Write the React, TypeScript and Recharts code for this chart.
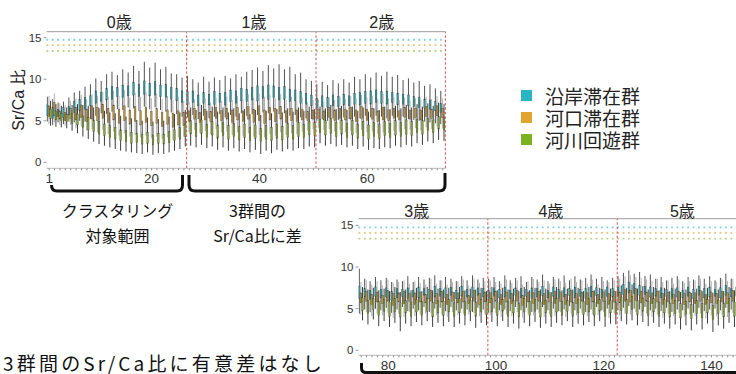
import React from "react";
import { ComposedChart, Bar, XAxis, YAxis, ReferenceLine } from "recharts";

// each entry: [whisker low, q1, q3, whisker high], index 1..146
const coastal = [
  // 0歳 (1-26)
  [4.9,5.6,6.9,7.9],[4.5,5.3,6.6,7.6],[4.8,5.5,6.4,7.2],[4.6,5.4,6.6,7.3],[4.9,5.7,6.7,7.8],[4.8,6.0,7.3,8.4],
  [5.0,6.2,7.6,8.6],[4.9,6.4,7.8,9.1],[5.2,6.8,8.0,9.4],[5.6,7.1,8.6,10.1],[5.9,7.3,8.4,9.8],[5.8,7.5,8.9,10.6],
  [6.1,7.6,9.1,10.9],[6.4,7.9,9.0,10.5],[6.3,7.8,9.3,11.2],[6.6,8.0,9.2,10.8],[6.5,8.1,9.6,11.6],[6.2,7.9,9.4,11.0],
  [6.7,8.2,9.8,12.1],[6.4,8.0,9.5,11.4],[6.6,8.1,9.7,12.0],[6.3,7.9,9.3,11.2],[6.1,7.8,9.4,11.5],[6.0,7.6,9.0,10.7],
  [5.8,7.4,8.9,10.6],[5.5,7.2,8.6,10.2],
  // 1歳 (27-50)
  [5.4,7.0,8.5,10.4],[5.7,7.2,8.6,10.0],[5.2,6.8,8.1,9.6],[5.6,7.1,8.4,10.3],[5.3,6.9,8.2,9.7],[5.5,7.0,8.5,10.2],
  [5.8,7.2,8.3,9.9],[5.4,6.9,8.4,10.4],[5.7,7.3,8.7,10.1],[5.5,7.1,8.6,10.6],[5.9,7.4,8.9,10.3],[5.6,7.3,8.8,10.9],
  [5.8,7.5,9.0,11.1],[5.7,7.4,9.2,11.4],[6.0,7.7,9.1,11.0],[5.9,7.6,9.3,11.7],[6.1,7.8,9.2,11.3],[5.8,7.5,9.0,11.8],
  [5.9,7.6,9.1,11.2],[5.6,7.3,8.8,11.5],[5.7,7.4,8.7,10.6],[5.4,7.1,8.5,10.8],[5.3,7.0,8.3,10.0],[5.2,6.8,8.1,9.8],
  // 2歳 (51-74)
  [5.0,6.5,7.7,9.4],[5.2,6.7,8.0,9.7],[5.0,6.6,7.8,9.3],[5.3,6.8,8.1,9.9],[5.1,6.7,7.9,9.5],[5.4,6.9,8.2,10.0],
  [5.2,6.8,8.0,9.6],[5.5,7.0,8.3,10.3],[5.3,6.9,8.4,10.0],[5.6,7.1,8.5,10.6],[5.4,7.0,8.6,10.2],[5.6,7.2,8.7,10.8],
  [5.5,7.1,8.5,10.4],[5.3,7.0,8.6,10.9],[5.6,7.2,8.4,10.3],[5.4,6.9,8.3,10.5],[5.5,7.0,8.2,9.9],[5.2,6.8,8.1,10.1],
  [5.1,6.7,7.9,9.6],[5.0,6.6,7.8,9.8],[4.9,6.5,7.6,9.2],[4.8,6.4,7.5,9.4],[4.7,6.2,7.3,8.9],[4.6,6.0,7.1,8.6],
  // 3歳 (75-98)
  [4.4,6.2,7.7,9.8],[4.9,6.4,7.4,8.6],[4.6,6.1,7.2,8.3],[5.0,6.5,7.6,8.8],[4.8,6.3,7.3,8.4],[5.1,6.4,7.5,8.7],
  [4.5,6.0,7.1,8.2],[4.9,6.3,7.4,8.5],[5.2,6.5,7.3,8.3],[4.7,6.2,7.5,8.9],[5.0,6.4,7.2,8.2],[4.8,6.3,7.6,8.8],
  [5.2,6.6,7.4,8.5],[4.6,6.2,7.3,8.7],[5.0,6.4,7.7,9.0],[5.1,6.5,7.4,8.4],[4.7,6.3,7.5,8.8],[5.2,6.6,7.6,8.6],
  [4.8,6.2,7.2,8.3],[5.0,6.5,7.7,8.9],[4.9,6.4,7.3,8.4],[4.6,6.3,7.6,9.0],[5.1,6.6,7.5,8.5],[4.9,6.4,7.4,8.7],
  // 4歳 (99-122)
  [4.5,6.1,7.2,8.6],[5.0,6.5,7.5,8.8],[4.8,6.3,7.3,8.3],[4.9,6.4,7.6,9.0],[4.7,6.2,7.2,8.4],[5.2,6.6,7.5,8.7],
  [4.8,6.3,7.4,8.9],[5.1,6.5,7.3,8.2],[4.6,6.2,7.5,8.8],[4.9,6.4,7.4,8.5],[5.2,6.6,7.7,9.1],[4.8,6.3,7.2,8.3],
  [5.0,6.5,7.6,8.8],[4.7,6.2,7.3,8.6],[4.9,6.4,7.5,9.0],[5.3,6.6,7.4,8.4],[4.8,6.3,7.6,8.9],[5.0,6.5,7.3,8.5],
  [4.6,6.2,7.4,8.7],[4.9,6.4,7.7,9.1],[5.2,6.6,7.5,8.6],[4.8,6.3,7.3,8.8],[5.0,6.5,7.6,8.4],[4.9,6.4,7.4,8.7],
  // 5歳 (123-146)
  [4.8,6.5,7.6,8.9],[5.1,6.7,7.9,9.3],[5.3,6.9,8.2,9.6],[5.0,6.8,8.0,9.2],[4.9,6.6,7.8,9.4],[5.2,6.7,7.7,8.9],
  [4.8,6.4,7.6,9.1],[5.0,6.5,7.4,8.6],[4.7,6.3,7.5,8.8],[5.1,6.5,7.3,8.4],[4.6,6.2,7.4,8.7],[4.9,6.4,7.5,8.9],
  [4.8,6.3,7.2,8.3],[5.0,6.5,7.6,8.8],[4.5,6.2,7.3,8.5],[5.1,6.6,7.7,9.0],[4.7,6.3,7.4,8.6],[4.9,6.4,7.6,8.9],
  [5.0,6.5,7.3,8.4],[4.8,6.3,7.5,8.7],[5.1,6.6,7.8,9.2],[4.9,6.4,7.4,8.6],[5.0,6.5,7.6,8.8],[4.7,6.3,7.3,8.5],
];

const estuary = [
  // 0歳
  [4.6,5.5,6.8,8.0],[4.8,5.6,7.2,8.3],[4.5,5.2,6.2,7.1],[4.4,5.0,6.0,6.9],[4.5,5.3,6.5,7.4],[4.1,5.1,6.6,7.7],
  [4.3,5.4,6.9,8.1],[3.8,4.9,6.4,7.6],[4.0,5.2,6.8,8.2],[3.6,5.0,6.6,8.0],[3.9,5.3,7.0,8.5],[3.4,4.8,6.5,7.9],
  [3.7,5.1,6.9,8.6],[3.2,4.7,6.4,8.0],[3.5,5.0,6.8,8.7],[3.1,4.6,6.3,7.8],[3.3,4.9,6.7,8.4],[3.0,4.5,6.2,7.9],
  [3.2,4.8,6.6,8.5],[2.9,4.4,6.1,7.7],[3.1,4.7,6.5,8.3],[2.8,4.3,6.0,7.6],[3.0,4.6,6.3,8.0],[2.7,4.2,5.9,7.5],
  [3.0,4.5,6.2,7.9],[3.1,4.4,6.0,7.4],
  // 1歳
  [3.6,4.9,6.2,7.3],[3.9,5.2,6.5,7.6],[3.5,4.8,6.0,7.1],[3.8,5.1,6.4,7.7],[3.4,4.9,6.1,7.2],[4.0,5.3,6.6,7.8],
  [3.6,5.0,6.2,7.4],[3.7,5.2,6.5,7.9],[3.3,4.8,6.3,7.5],[3.6,5.1,6.6,8.0],[3.2,4.9,6.2,7.6],[3.5,5.2,6.7,8.2],
  [3.1,4.8,6.4,7.8],[3.3,5.0,6.8,8.3],[3.0,4.7,6.3,7.9],[3.4,5.1,6.6,8.1],[3.2,4.9,6.5,7.7],[3.6,5.2,6.7,8.2],
  [3.3,4.8,6.2,7.5],[3.5,5.0,6.5,7.9],[3.4,4.9,6.3,7.4],[3.7,5.1,6.4,7.8],[3.8,5.0,6.1,7.2],[4.0,5.2,6.3,7.5],
  // 2歳
  [4.1,5.3,6.4,7.6],[3.9,5.1,6.2,7.3],[4.0,5.4,6.6,7.8],[3.7,5.0,6.3,7.5],[3.9,5.3,6.5,7.9],[3.6,5.1,6.4,7.6],
  [3.8,5.2,6.6,8.0],[3.5,4.9,6.3,7.7],[3.9,5.3,6.7,8.1],[3.6,5.0,6.4,7.8],[3.7,5.2,6.5,8.0],[3.4,4.9,6.2,7.6],
  [3.6,5.1,6.6,8.2],[3.5,5.0,6.3,7.7],[3.8,5.3,6.5,7.9],[3.7,5.1,6.2,7.5],[4.0,5.4,6.6,7.8],[3.9,5.2,6.3,7.4],
  [4.1,5.4,6.5,7.7],[3.8,5.1,6.3,7.5],[4.2,5.5,6.7,7.9],[4.0,5.3,6.4,7.6],[4.3,5.6,6.8,8.0],[4.1,5.4,6.5,7.7],
  // 3歳
  [4.3,5.7,6.9,8.2],[4.6,5.9,7.1,8.4],[4.1,5.5,6.7,7.9],[4.4,5.8,7.0,8.3],[4.2,5.6,6.6,7.8],[4.5,5.9,7.2,8.5],
  [3.9,5.4,6.8,8.1],[4.4,5.8,6.9,8.2],[4.0,5.6,7.1,8.4],[4.6,5.9,6.8,8.0],[4.1,5.5,6.9,8.3],[4.3,5.8,7.0,8.1],
  [4.4,5.7,6.7,7.9],[4.5,5.9,7.2,8.6],[4.2,5.6,6.8,8.0],[4.3,5.8,7.1,8.4],[4.0,5.5,6.7,7.9],[4.6,5.9,7.0,8.2],
  [4.2,5.7,6.9,8.3],[4.4,5.8,7.1,8.5],[4.3,5.6,6.6,7.8],[4.5,5.9,7.2,8.6],[4.1,5.5,6.8,8.1],[4.4,5.8,7.0,8.3],
  // 4歳
  [4.2,5.7,6.9,8.4],[4.5,5.9,7.1,8.2],[4.0,5.5,6.7,8.0],[4.3,5.8,7.0,8.5],[4.1,5.6,6.8,8.1],[4.6,5.9,7.2,8.4],
  [3.9,5.4,6.6,7.9],[4.4,5.8,7.0,8.3],[4.2,5.6,6.9,8.6],[4.5,5.9,7.1,8.2],[4.0,5.5,6.8,8.4],[4.3,5.8,6.9,8.0],
  [4.1,5.6,7.1,8.5],[4.6,5.9,7.0,8.3],[4.0,5.5,6.7,8.1],[4.4,5.8,7.2,8.6],[4.2,5.6,6.8,8.2],[4.5,5.9,7.0,8.4],
  [4.1,5.5,6.9,8.0],[4.3,5.8,7.1,8.5],[4.2,5.6,6.7,7.9],[4.6,5.9,7.0,8.3],[3.9,5.5,6.8,8.2],[4.4,5.8,7.1,8.4],
  // 5歳
  [4.2,5.7,7.0,8.6],[4.4,5.9,7.3,8.9],[4.3,5.8,7.2,9.0],[4.6,6.0,7.4,8.8],[4.1,5.7,7.1,8.7],[4.4,5.9,7.0,8.5],
  [4.0,5.6,6.9,8.3],[4.3,5.8,7.1,8.6],[3.9,5.5,6.8,8.2],[4.4,5.8,7.0,8.4],[4.1,5.6,6.7,8.0],[4.5,5.9,7.1,8.5],
  [4.0,5.5,6.8,8.1],[4.3,5.8,7.0,8.3],[4.1,5.6,6.9,8.4],[4.4,5.9,7.2,8.6],[3.8,5.5,6.7,8.0],[4.2,5.7,7.0,8.3],
  [4.1,5.6,6.8,8.2],[4.3,5.8,7.1,8.5],[4.0,5.6,6.9,8.3],[4.5,5.9,7.2,8.6],[4.2,5.7,6.9,8.2],[4.3,5.8,7.0,8.4],
];

const river = [
  // 0歳
  [4.4,5.3,6.4,7.4],[4.3,5.1,6.2,7.0],[4.2,5.0,5.9,6.8],[4.1,4.9,5.8,6.6],[3.8,4.7,5.9,6.9],[3.5,4.5,5.8,7.0],
  [3.1,4.2,5.6,6.9],[2.8,3.9,5.4,6.8],[2.5,3.7,5.1,6.6],[2.2,3.4,4.9,6.5],[2.0,3.2,4.6,6.2],[1.8,3.0,4.4,6.0],
  [1.6,2.8,4.2,5.9],[1.4,2.6,3.9,5.6],[1.3,2.5,3.8,5.5],[1.2,2.3,3.6,5.3],[1.1,2.4,3.5,5.1],[1.0,2.2,3.4,5.0],
  [1.2,2.3,3.6,5.4],[0.9,2.1,3.3,4.9],[1.1,2.3,3.5,5.2],[1.0,2.2,3.4,5.0],[1.2,2.4,3.7,5.5],[1.4,2.6,3.9,5.8],
  [1.6,2.8,4.2,6.0],[1.9,3.1,4.6,6.3],
  // 1歳
  [2.0,3.4,5.0,6.6],[1.8,3.1,4.7,6.3],[2.1,3.5,5.1,6.9],[1.7,3.0,4.6,6.2],[1.9,3.3,4.9,6.7],[1.5,2.9,4.5,6.1],
  [1.8,3.2,4.8,6.6],[1.4,2.8,4.4,6.0],[1.7,3.1,4.7,6.5],[1.3,2.7,4.3,5.9],[1.6,3.0,4.6,6.4],[1.2,2.6,4.2,5.8],
  [1.5,2.9,4.5,6.3],[1.0,2.5,4.1,5.7],[1.4,2.8,4.4,6.2],[1.1,2.6,4.2,5.9],[1.5,2.9,4.6,6.4],[1.3,2.7,4.3,6.0],
  [1.6,3.0,4.7,6.5],[1.4,2.8,4.4,6.1],[1.7,3.1,4.8,6.6],[1.6,3.0,4.6,6.2],[1.9,3.3,4.9,6.7],[1.8,3.2,4.8,6.4],
  // 2歳
  [2.3,3.6,5.2,6.7],[2.0,3.3,5.0,6.5],[2.2,3.5,5.3,6.9],[1.9,3.1,4.8,6.4],[2.1,3.4,5.1,6.8],[1.8,3.0,4.7,6.3],
  [2.0,3.3,5.0,6.7],[1.6,2.9,4.6,6.2],[1.9,3.2,4.9,6.6],[1.5,2.8,4.5,6.1],[1.7,3.1,4.8,6.5],[1.6,2.9,4.6,6.3],
  [1.8,3.2,4.9,6.7],[1.7,3.0,4.7,6.4],[2.0,3.3,5.0,6.8],[1.8,3.1,4.8,6.5],[2.1,3.4,5.1,6.9],[1.9,3.2,4.9,6.6],
  [2.3,3.6,5.2,7.0],[2.1,3.4,5.0,6.7],[2.5,3.8,5.3,7.1],[2.3,3.6,5.1,6.8],[2.7,4.0,5.5,7.2],[2.6,3.9,5.4,7.0],
  // 3歳
  [3.6,4.8,6.3,7.6],[3.1,4.4,6.0,7.3],[3.7,4.9,6.2,7.5],[2.9,4.2,5.9,7.2],[3.5,4.7,6.1,7.4],[2.8,4.1,5.8,7.1],
  [3.3,4.6,6.2,7.6],[2.3,4.0,5.7,7.0],[3.2,4.5,6.0,7.3],[2.9,4.1,5.8,7.2],[3.4,4.6,6.1,7.5],[3.0,4.2,5.9,7.1],
  [3.5,4.7,6.2,7.6],[2.8,4.0,5.8,7.2],[3.3,4.5,6.0,7.4],[2.9,4.2,5.9,7.3],[3.4,4.6,6.1,7.5],[2.8,4.1,5.7,7.0],
  [3.2,4.5,6.2,7.6],[3.0,4.2,5.9,7.2],[3.5,4.7,6.0,7.4],[2.7,4.1,5.8,7.3],[3.3,4.6,6.1,7.5],[3.0,4.3,5.9,7.1],
  // 4歳
  [3.4,4.6,6.2,7.6],[2.9,4.2,5.8,7.2],[3.5,4.7,6.1,7.5],[2.8,4.1,5.9,7.3],[3.2,4.5,6.0,7.4],[2.6,4.0,5.7,7.1],
  [3.3,4.6,6.2,7.6],[2.9,4.2,5.9,7.2],[3.4,4.7,6.1,7.5],[2.7,4.0,5.8,7.3],[3.2,4.5,6.0,7.4],[2.8,4.1,5.7,7.0],
  [3.3,4.6,6.2,7.6],[3.0,4.2,5.9,7.2],[3.5,4.7,6.0,7.4],[2.8,4.1,5.8,7.3],[3.2,4.5,6.1,7.5],[3.0,4.3,5.9,7.1],
  [3.4,4.6,6.2,7.6],[2.9,4.2,5.8,7.2],[3.5,4.7,6.1,7.5],[2.8,4.1,5.9,7.3],[3.2,4.5,6.0,7.4],[3.1,4.3,5.8,7.1],
  // 5歳
  [3.5,4.8,6.4,7.8],[3.1,4.4,6.1,7.5],[3.6,4.9,6.5,7.9],[3.0,4.3,6.0,7.4],[3.4,4.7,6.3,7.7],[2.9,4.2,5.9,7.3],
  [3.3,4.6,6.2,7.6],[2.8,4.1,5.8,7.2],[3.2,4.5,6.1,7.5],[2.6,4.0,5.7,7.1],[3.1,4.4,6.0,7.4],[2.5,3.9,5.6,7.0],
  [3.0,4.3,5.9,7.3],[2.4,3.8,5.5,6.9],[3.1,4.4,6.0,7.4],[2.5,3.9,5.6,7.1],[3.2,4.5,6.1,7.5],[2.2,3.7,5.4,6.9],
  [3.0,4.4,6.0,7.3],[2.6,4.0,5.7,7.1],[3.3,4.6,6.2,7.6],[2.8,4.1,5.8,7.2],[3.2,4.5,6.1,7.4],[2.9,4.2,5.9,7.3],
];

const groupNames = ["沿岸滞在群", "河口滞在群", "河川回遊群"];
const groupKeys = ["coastal", "estuary", "river"];
const groupColors = ["#2bb4c2", "#e0a52e", "#7cb21f"];
const boxFills = ["#2f9aa3", "#c29438", "#87a336"];
const whiskerColors = ["#3e3e3e", "#a8a8a8", "#262626"];
const dotColors = ["#7fd1da", "#e6c47e", "#b8d583"];
const sigLevels = [14.75, 14.1, 13.4];

const ageLabels = ["0歳", "1歳", "2歳", "3歳", "4歳", "5歳"];
const ageTickIdx = [14, 39, 62.7, 85.3, 110.2, 134.6];
const ageBreaks = [26.5, 50.5, 74.5, 98.5, 122.5, 146.5];
const xTickLabels = [1, 20, 40, 60, 80, 100, 120, 140];
const yTicks = [0, 5, 10, 15];

const rows = coastal.map((c, i) => ({ idx: i + 1, coastal: c, estuary: estuary[i], river: river[i] }));

const latin = '"Liberation Sans", Arial, "Noto Sans CJK JP", sans-serif';
const cjk = '"Noto Sans CJK JP", sans-serif';

function BoxShape(props: any) {
  const { x, y, width, height, box, fill, whisker } = props;
  const [lo, q1, q3, hi] = box;
  const top = Math.min(y, y + height);
  const h = Math.abs(height);
  const unit = h / (hi - lo);
  const cx = x + width / 2;
  const y3 = top + (hi - q3) * unit;
  const y1 = top + (hi - q1) * unit;
  return (
    <g>
      <line x1={cx} x2={cx} y1={top} y2={top + h} stroke={whisker} strokeWidth={0.9} />
      <rect x={x} y={y3} width={width} height={y1 - y3} fill={fill} stroke="rgba(25,25,25,0.6)" strokeWidth={0.45} />
    </g>
  );
}

function Panel({ first, last, yDomain, ageMargin }: { first: number; last: number; yDomain: number[]; ageMargin: number }) {
  const data = rows.filter((r) => r.idx >= first && r.idx <= last);
  const xDomain = [first - 0.5, last + 0.5];
  const ages = ageTickIdx.filter((v) => v > first && v < last);
  const breaks = ageBreaks.filter((v) => v > first && v <= last + 0.5);
  const width = 46.5 + (last - first + 1) * 5.39 + 6;

  return (
    <ComposedChart
      width={width}
      height={191}
      data={data}
      margin={{ top: 7.7, right: 6, bottom: 0.7, left: 10.5 }}
      barGap={0}
    >
      <XAxis
        xAxisId="age"
        orientation="top"
        type="number"
        dataKey="idx"
        domain={xDomain}
        allowDataOverflow
        ticks={ages}
        interval={0}
        tickFormatter={(v) => ageLabels[ageTickIdx.indexOf(v)]}
        tickLine={false}
        tickSize={0}
        tickMargin={ageMargin}
        axisLine={{ stroke: "#9c9c9c" }}
        height={24}
        tick={{ fontSize: 16, fill: "#222", fontFamily: latin }}
      />
      <XAxis
        type="number"
        dataKey="idx"
        domain={xDomain}
        allowDataOverflow
        ticks={data.map((d) => d.idx)}
        interval={0}
        tickFormatter={(v) => (xTickLabels.includes(v) ? String(v) : "")}
        tickSize={2}
        tickMargin={3}
        tickLine={{ stroke: "#8a8a8a" }}
        axisLine={{ stroke: "#bcbcbc" }}
        height={22}
        tick={{ fontSize: 13.5, fill: "#333", fontFamily: latin }}
      />
      <YAxis
        domain={yDomain}
        allowDataOverflow
        ticks={yTicks}
        interval={0}
        axisLine={false}
        tickSize={3}
        tickMargin={2}
        tickLine={{ stroke: "#999" }}
        width={36}
        tick={{ fontSize: 11.5, fill: "#333", fontFamily: latin }}
      />
      {sigLevels.map((lvl, i) => (
        <ReferenceLine key={"s" + i} y={lvl} stroke={dotColors[i]} strokeWidth={1.8} strokeDasharray="1.8 3.59" />
      ))}
      {groupKeys.map((k, g) => (
        <Bar
          key={k}
          dataKey={(d: any) => [d[k][0], d[k][3]]}
          barSize={1.8}
          isAnimationActive={false}
          shape={(p: any) => <BoxShape {...p} box={p.payload[k]} fill={boxFills[g]} whisker={whiskerColors[g]} />}
        />
      ))}
      {breaks.map((b) => (
        <ReferenceLine key={"b" + b} x={b} stroke="#d6504c" strokeWidth={1} strokeDasharray="2.5 2" />
      ))}
    </ComposedChart>
  );
}

export default function App() {
  return (
    <div style={{ position: "absolute", left: 0, top: 0, width: 736, height: 374, overflow: "hidden", background: "#fff" }}>
      <div style={{ position: "absolute", left: 0, top: 0 }}>
        <Panel first={1} last={74} yDomain={[-0.72, 15.72]} ageMargin={4} />
      </div>
      <div style={{ position: "absolute", left: 311.5, top: 186.6 }}>
        <Panel first={75} last={146} yDomain={[-0.6, 15.8]} ageMargin={2} />
      </div>

      {/* y axis title */}
      <div
        style={{
          position: "absolute",
          left: 16.7,
          top: 100,
          transform: "translate(-50%, -50%) rotate(-90deg)",
          whiteSpace: "nowrap",
          fontFamily: latin,
          fontSize: 16,
          color: "#222",
        }}
      >
        Sr/Ca 比
      </div>

      {/* legend */}
      {groupNames.map((name, i) => (
        <div key={name}>
          <div
            style={{
              position: "absolute",
              left: 521,
              top: 90 + i * 22,
              width: 11,
              height: 11,
              background: groupColors[i],
            }}
          />
          <div
            style={{
              position: "absolute",
              left: 545,
              top: 95.5 + i * 22 - 10,
              height: 20,
              lineHeight: "20px",
              fontFamily: cjk,
              fontSize: 19,
              color: "#222",
              whiteSpace: "nowrap",
            }}
          >
            {name}
          </div>
        </div>
      ))}

      {/* brackets */}
      <svg width={736} height={374} style={{ position: "absolute", left: 0, top: 0, pointerEvents: "none" }}>
        <path d="M51.5 185 Q51.5 191 57 191 L177 191 Q182.5 191 182.5 185 L182.5 175" fill="none" stroke="#111" strokeWidth={3} />
        <path d="M189 175 L189 185 Q189 191 195 191 L439 191 Q445 191 445 185 L445 173" fill="none" stroke="#111" strokeWidth={3} />
        <path d="M361.5 363 L361.5 368 Q361.5 372.5 366 372.5 L740 372.5" fill="none" stroke="#111" strokeWidth={3} />
      </svg>

      <div
        style={{
          position: "absolute",
          left: 47.5,
          top: 197.5,
          width: 140,
          textAlign: "center",
          lineHeight: "25.5px",
          fontFamily: cjk,
          fontSize: 16,
          color: "#111",
        }}
      >
        クラスタリング
        <br />
        対象範囲
      </div>
      <div
        style={{
          position: "absolute",
          left: 187.5,
          top: 197.5,
          width: 140,
          textAlign: "center",
          lineHeight: "25.5px",
          fontFamily: cjk,
          fontSize: 16,
          color: "#111",
        }}
      >
        3群間の
        <br />
        Sr/Ca比に差
      </div>
      <div
        style={{
          position: "absolute",
          left: 3,
          top: 353,
          height: 20,
          lineHeight: "20px",
          fontFamily: cjk,
          fontSize: 19,
          letterSpacing: 3.2,
          color: "#111",
          whiteSpace: "nowrap",
        }}
      >
        3群間のSr/Ca比に有意差はなし
      </div>
    </div>
  );
}
